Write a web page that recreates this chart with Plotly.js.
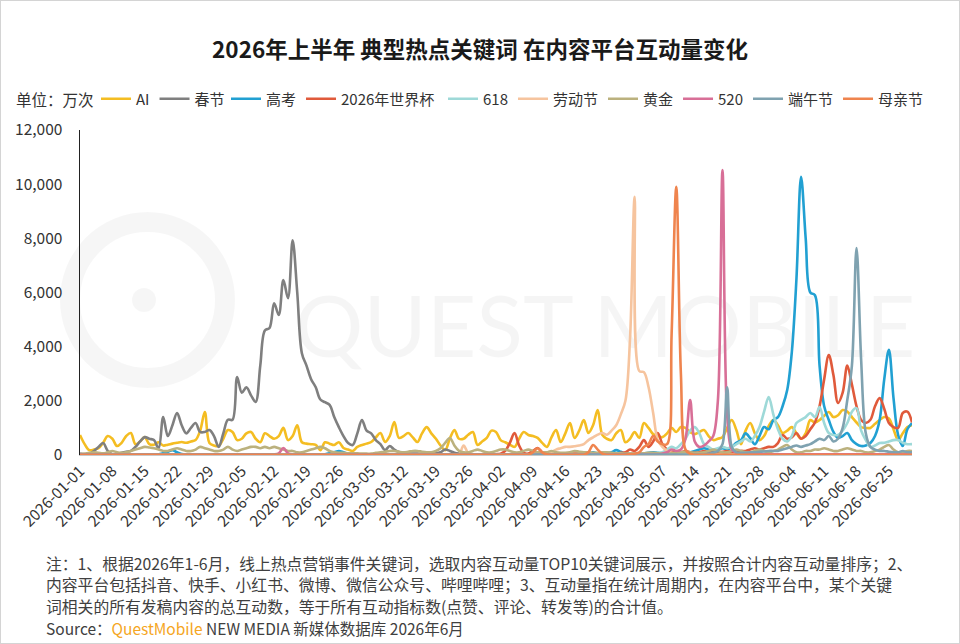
<!DOCTYPE html>
<html>
<head>
<meta charset="utf-8">
<script src="https://cdn.plot.ly/plotly-3.0.1.min.js"></script>
<style>
html,body{margin:0;padding:0;background:#fff;}
#wrap{position:relative;width:960px;height:644px;}
#chart{width:960px;height:644px;}
#frame{position:absolute;left:0;top:0;width:958px;height:642px;border:1px solid #d4d4d4;pointer-events:none;}
</style>
</head>
<body>
<div id="wrap"><div id="chart"></div><div id="frame"></div></div>
<script>
// ---- data ----
const SERIES_NAMES = ["AI","春节","高考","2026年世界杯","618","劳动节","黄金","520","端午节","母亲节"];
const SERIES_COLORS = ["#F4BD22","#7F7F7F","#21A0D2","#E05A3B","#9ED9D8","#F6C49E","#BBB17E","#D86F97","#7FA2B0","#EF844E"];
const START_DATE = "2026-01-01";
const N_DAYS = 181;

const ai = [740,400,180,200,250,450,700,600,330,450,
700,810,400,500,660,400,380,470,350,380,
420,450,480,450,500,550,900,1590,440,350,
330,600,920,850,550,600,800,850,600,470,
800,700,600,700,1000,550,700,1100,470,420,
400,370,180,470,420,370,470,260,200,150,
300,370,420,480,650,810,480,700,1220,630,
700,810,650,480,800,1030,800,600,350,180,
600,920,600,600,750,850,370,500,630,900,
850,550,470,380,300,600,850,740,700,630,
450,300,650,920,480,800,1180,630,900,1290,
810,1100,1660,740,600,550,800,920,470,600,
850,630,1180,1000,770,700,660,800,1000,850,
1030,1000,850,770,850,920,700,550,600,660,
1000,1290,920,400,900,1180,800,550,700,1070,
1290,1100,810,900,1030,800,600,800,1290,1200,
1290,1450,1590,1400,1470,1660,1600,1400,1200,1030,
1000,1000,1150,1290,1400,1350,950,550,800,1030,1100];

const chunjie = [50,30,50,150,300,440,150,30,50,80,
120,150,300,500,660,600,550,250,1400,700,
1100,1550,1100,800,1000,1180,850,850,920,700,
300,800,1300,1300,2880,2300,2500,2200,1960,3300,
4600,4690,5600,5170,6460,5790,7930,6000,3760,3300,
2800,2500,2050,1950,1850,1400,1030,700,440,370,
800,1290,900,800,550,400,180,330,200,110,
80,60,50,50,40,40,50,60,100,200,
150,80,50,40,40,30,30,30,40,40,
30,30,30,30,30,30,30,30,30,30,
30,30,30,30,30,30,30,30,30,30,
30,30,30,30,30,30,30,30,30,30,
30,30,30,30,30,30,30,30,30,30,
30,30,30,30,30,30,30,30,30,30,
30,30,30,30,30,30,30,30,30,30,
30,30,30,30,30,30,30,30,30,30,
30,30,30,30,30,30,30,30,30,30,
30,30,30,30,30,30,30,30,30,30,30];

const gaokao = [20,20,20,20,20,20,20,20,20,20,
20,20,20,20,20,20,20,30,60,120,
180,100,40,20,20,20,20,20,20,20,
20,20,20,20,20,20,20,20,20,20,
20,20,20,20,20,20,20,20,20,20,
20,20,20,30,60,100,150,100,40,20,
20,20,20,20,20,20,20,20,20,20,
20,20,20,20,20,20,20,20,20,20,
20,20,20,20,20,20,20,20,20,20,
20,20,20,20,20,20,20,20,20,20,
20,20,20,20,20,20,20,30,40,50,
60,100,60,40,60,100,180,120,60,40,
40,50,60,80,100,80,60,80,100,120,
100,80,100,150,200,250,200,150,200,250,
200,300,450,550,800,620,400,700,1030,950,
1290,1400,1800,2400,3800,6500,10270,8000,6000,5900,
3300,1800,1290,850,630,700,810,550,400,330,
350,440,700,1290,2800,3880,2100,740,330,950,1180];

const worldcup = [20,20,20,20,20,20,20,20,20,20,
20,20,20,20,20,20,20,20,20,20,
20,20,20,20,20,20,20,20,20,20,
20,20,20,20,20,20,20,20,20,20,
20,20,20,20,20,20,20,20,20,20,
20,20,20,20,20,20,20,20,20,20,
20,20,20,20,20,20,20,20,20,20,
20,20,20,20,20,20,20,20,20,20,
20,20,20,20,20,20,20,20,20,20,
30,50,150,450,810,350,80,50,150,260,
100,50,40,40,40,50,50,50,50,50,
50,50,50,50,50,50,50,80,100,200,
150,300,550,300,500,810,400,200,100,80,
100,150,100,80,100,150,100,80,100,120,
150,120,100,150,150,200,250,200,250,300,
300,440,740,600,650,810,600,700,950,1200,
1800,2800,3690,2950,1920,2300,3300,2600,1800,1290,
1180,1300,1800,2100,1700,1180,1030,1000,1550,1600,1200];

const s618 = [20,20,20,20,20,20,20,20,20,20,
20,20,20,20,20,20,20,20,20,20,
20,20,20,20,20,20,20,20,20,20,
20,20,20,20,20,20,20,20,20,20,
20,20,20,20,20,20,20,20,20,20,
20,20,20,20,20,20,20,20,20,20,
20,20,20,20,20,20,20,20,20,20,
20,20,20,20,20,20,20,20,20,20,
20,20,20,20,20,20,20,20,20,20,
20,20,20,20,20,20,20,20,20,20,
20,20,20,20,20,20,20,20,20,20,
20,20,20,20,20,20,20,30,30,30,
40,40,50,50,60,80,100,200,300,250,
400,600,900,1030,800,400,300,200,250,300,
250,300,400,500,600,500,700,1030,1600,2140,
1500,950,600,500,700,1180,1300,1400,1550,1400,
1770,1180,810,740,740,900,1180,1600,1730,900,
550,300,350,440,450,500,550,550,450,400,400];

const laodong = [20,20,20,20,20,20,20,20,20,20,
20,20,20,20,20,20,20,20,20,20,
20,20,20,20,20,20,20,20,20,20,
20,20,20,20,20,20,20,20,20,20,
20,20,20,20,20,20,20,20,20,20,
20,20,20,20,20,20,20,20,20,20,
20,20,20,20,20,20,20,20,20,20,
20,20,20,20,20,20,20,20,20,20,
20,20,20,350,60,20,20,20,20,20,
20,20,20,20,20,20,20,20,20,20,
30,50,100,200,250,300,300,320,350,400,
550,650,750,810,750,900,1100,1500,2000,4300,
9530,3100,3060,2510,1550,550,300,150,80,40,
20,20,20,20,20,20,20,20,20,20,
20,20,20,20,20,20,20,20,20,20,
20,20,20,20,20,20,20,20,20,20,
20,20,20,20,20,20,20,20,20,20,
20,20,20,20,20,20,20,20,20,20,20];

const huangjin = [30,50,80,100,80,60,100,150,100,80,
100,150,200,250,300,280,250,200,150,150,
200,250,200,150,150,200,300,250,200,150,
150,200,300,200,150,200,250,300,300,250,
300,250,300,250,200,150,150,100,100,150,
200,250,300,250,150,100,80,80,60,60,
60,50,50,50,80,100,120,150,150,120,
100,120,150,150,120,100,100,150,250,450,
630,350,150,100,100,150,200,150,100,100,
150,200,200,150,100,100,150,200,150,100,
100,100,150,100,80,80,100,150,120,100,
100,80,80,100,100,80,60,60,50,50,
50,50,60,80,80,60,50,50,60,80,
100,120,100,80,80,100,150,200,150,100,
100,150,200,150,100,100,150,200,150,100,
150,200,300,370,200,100,100,150,150,200,
200,250,200,150,150,200,250,200,150,150,
100,100,150,200,300,370,200,100,100,150,150];

const s520 = [20,20,20,20,20,20,20,20,20,20,
20,20,20,20,20,20,20,20,20,20,
20,20,20,20,20,20,20,20,20,20,
20,20,20,20,20,20,20,20,20,20,
20,20,20,60,260,60,20,20,20,20,
20,20,20,20,20,20,20,20,20,20,
20,20,20,20,20,20,20,20,20,20,
20,20,20,20,20,20,20,20,20,20,
20,20,20,20,20,20,20,20,20,20,
20,20,20,20,20,20,20,20,20,20,
20,20,20,20,20,20,20,20,20,20,
20,20,20,20,20,20,20,20,20,20,
20,20,20,20,20,20,50,100,200,150,
200,600,2030,500,300,350,500,700,2000,10520,
1500,200,80,30,30,30,30,30,30,30,
30,30,30,30,30,30,30,30,30,30,
30,30,30,30,30,30,30,30,30,30,
30,30,30,30,30,30,30,30,30,30,30];

const duanwu = [20,20,20,20,20,20,20,20,20,20,
20,20,20,20,20,20,20,20,20,20,
20,20,20,20,20,20,20,20,20,20,
20,20,20,20,20,20,20,20,20,20,
20,20,20,20,20,20,20,20,20,20,
20,20,20,20,20,20,20,20,20,20,
20,20,20,20,20,20,20,20,20,20,
20,20,20,20,20,20,20,20,20,20,
20,20,20,20,20,20,20,20,20,20,
20,20,20,20,20,20,20,20,20,20,
20,20,20,20,20,20,20,20,20,20,
20,20,20,20,20,20,20,20,20,20,
20,20,20,20,20,20,20,20,20,20,
20,20,20,20,20,20,50,80,150,400,
2500,300,100,80,80,100,100,120,130,150,
150,150,200,250,300,350,300,350,400,500,
600,550,700,500,600,1000,2030,3300,7640,3500,
800,300,200,150,150,120,100,100,150,100,100];

const muqin = [10,10,10,10,10,10,10,10,10,10,
10,10,10,10,10,10,10,10,10,10,
10,10,10,10,10,10,10,10,10,10,
10,10,10,10,10,10,10,10,10,10,
10,10,10,10,10,10,10,10,10,10,
10,10,10,10,10,10,10,10,10,10,
10,10,10,10,10,10,10,10,10,10,
10,10,10,10,10,10,10,10,10,10,
10,10,10,10,10,10,10,10,10,10,
10,10,10,10,10,10,10,10,100,250,
100,30,10,10,10,10,10,10,10,10,
100,370,200,50,10,10,10,10,10,30,
50,100,300,400,700,500,400,400,4500,9900,
3000,200,50,10,10,10,10,10,10,10,
10,10,10,10,10,10,10,10,10,10,
10,10,10,10,10,10,10,10,10,10,
10,10,10,10,10,10,10,10,10,10,
10,10,10,10,10,10,10,10,10,10,10];

const Y_TICKS = [0,2000,4000,6000,8000,10000,12000];
const Y_TICK_LABELS = ["0","2,000","4,000","6,000","8,000","10,000","12,000"];

const TITLE = "2026年上半年 典型热点关键词 在内容平台互动量变化";
const UNIT = "单位：万次";
const NOTES = [
 "注：1、根据2026年1-6月，线上热点营销事件关键词，选取内容互动量TOP10关键词展示，并按照合计内容互动量排序；2、",
 "内容平台包括抖音、快手、小红书、微博、微信公众号、哔哩哔哩；3、互动量指在统计周期内，在内容平台中，某个关键",
 "词相关的所有发稿内容的总互动数，等于所有互动指标数(点赞、评论、转发等)的合计值。"
];
const SOURCE = "Source：<span style='color:#F5A623'>QuestMobile</span> NEW MEDIA 新媒体数据库 2026年6月";

// ---- build ----
const dates = [];
(function(){
  const t0 = Date.UTC(2026,0,1);
  for (let i=0;i<N_DAYS;i++){
    const d = new Date(t0 + i*86400000);
    const m = String(d.getUTCMonth()+1).padStart(2,'0');
    const dd = String(d.getUTCDate()).padStart(2,'0');
    dates.push(d.getUTCFullYear()+'-'+m+'-'+dd);
  }
})();

const seriesValues = [ai,chunjie,gaokao,worldcup,s618,laodong,huangjin,s520,duanwu,muqin];
const FONT = '"Noto Sans CJK SC","Noto Sans",sans-serif';
const legendOf = i => (i < 2 ? 'legend' : (i < 4 ? 'legend2' : 'legend3'));

const traces = SERIES_NAMES.map((name,i)=>({
  type:'scatter', mode:'lines', name:name, x:dates, y:seriesValues[i],
  legend: legendOf(i),
  line:{color:SERIES_COLORS[i], width:2.6, shape:'spline', smoothing:1},
  hoverinfo:'skip'
}));

const L=80, R=48, T=130, B=189;
const pw = 960-L-R, ph = 644-T-B;
const px2x = p => (p-L)/pw;
const py2y = p => (644-B-p)/ph;

const noteY = [563,584.5,606];
const annotations = [
  {text:UNIT, xref:'paper', yref:'paper', x:px2x(14), y:py2y(99), xanchor:'left', yanchor:'middle', showarrow:false, font:{family:FONT,size:15.5,color:'#333'}}
].concat(NOTES.map((t,i)=>({
  text:t, xref:'paper', yref:'paper', x:px2x(44), y:py2y(noteY[i]), xanchor:'left', yanchor:'middle',
  showarrow:false, align:'left', font:{family:FONT,size:15.8,color:'#404040'}
}))).concat([
  {text:SOURCE, xref:'paper', yref:'paper', x:px2x(44), y:py2y(628), xanchor:'left', yanchor:'middle',
   showarrow:false, align:'left', font:{family:FONT,size:15.5,color:'#404040'}}
]);

const shapes = [
  {type:'circle', xref:'paper', yref:'paper', layer:'below',
   x0:px2x(70), x1:px2x(225), y0:py2y(378), y1:py2y(222),
   line:{color:'rgba(0,0,0,0.035)', width:20}},
  {type:'circle', xref:'paper', yref:'paper', layer:'below',
   x0:px2x(132), x1:px2x(156), y0:py2y(312), y1:py2y(288),
   fillcolor:'rgba(0,0,0,0.035)', line:{width:0}},
  {type:'rect', xref:'paper', yref:'paper', layer:'below',
   x0:px2x(290), x1:px2x(920), y0:py2y(365), y1:py2y(280),
   line:{width:0}, fillcolor:'rgba(0,0,0,0)',
   label:{text:'QUEST MOBILE', textposition:'middle center', font:{family:'Lato, sans-serif', size:86, color:'rgba(0,0,0,0.04)'}}}
];

const legendCommon = {orientation:'h', xref:'container', yref:'container', xanchor:'left', y:1-99/644, yanchor:'middle',
  font:{family:FONT, size:15, color:'#333'}, itemwidth:30, traceorder:'normal', bgcolor:'rgba(0,0,0,0)', borderwidth:0};

const layout = {
  width:960, height:644,
  margin:{l:L, r:R, t:T, b:B},
  paper_bgcolor:'#fff', plot_bgcolor:'#fff',
  font:{family:FONT, color:'#333'},
  title:{text:TITLE, x:0.5, xref:'container', xanchor:'center', y:1-50/644, yref:'container', yanchor:'middle',
         font:{family:FONT, size:22.5, color:'#1a1a1a', weight:'bold'}},
  showlegend:true,
  legend:Object.assign({}, legendCommon, {x:96/960}),
  legend2:Object.assign({}, legendCommon, {x:226/960}),
  legend3:Object.assign({}, legendCommon, {x:443/960}),
  xaxis:{type:'date', range:[dates[0], dates[N_DAYS-1]], tick0:START_DATE, dtick:7*86400000, tickformat:'%Y-%m-%d',
         tickangle:-45, tickfont:{family:FONT, size:15.3, color:'#333'}, showgrid:false, zeroline:false,
         showline:true, linecolor:'#c8c8c8', linewidth:1, ticks:'', fixedrange:true},
  yaxis:{range:[0,12000], tickvals:Y_TICKS, ticktext:Y_TICK_LABELS, tickfont:{family:FONT, size:15.5, color:'#333'},
         showgrid:false, zeroline:false, showline:true, linecolor:'#222', linewidth:1.5, ticks:'', ticklabelstandoff:13, fixedrange:true},
  annotations:annotations,
  shapes:shapes
};

Plotly.newPlot('chart', traces, layout, {displayModeBar:false, staticPlot:true});
</script>
</body>
</html>
